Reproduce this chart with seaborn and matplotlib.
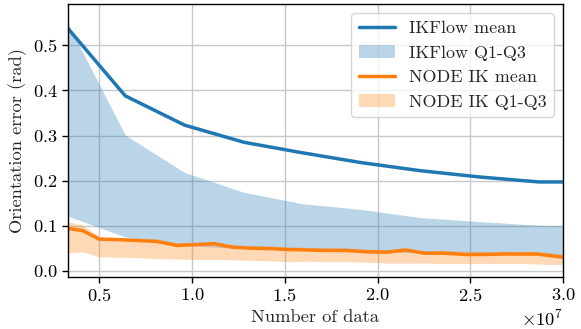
import numpy as np
import pandas as pd
import seaborn as sns
import matplotlib.pyplot as plt

# IKFlow (x in units of 1e7 samples)
ikflow_x = [0.33, 0.64, 0.96, 1.28, 1.59, 1.91, 2.23, 2.55, 2.87, 3.0]
ikflow_mean = [0.538, 0.388, 0.323, 0.285, 0.262, 0.240, 0.222, 0.208, 0.197, 0.197]
ikflow_q1 = [0.121, 0.075, 0.056, 0.049, 0.045, 0.042, 0.040, 0.038, 0.036, 0.034]
ikflow_q3 = [0.549, 0.301, 0.218, 0.174, 0.149, 0.136, 0.118, 0.109, 0.101, 0.100]

# NODE IK
node_x = [0.33, 0.41, 0.50, 0.60, 0.70, 0.81, 0.92, 1.02, 1.12, 1.22, 1.32, 1.42,
          1.52, 1.62, 1.72, 1.83, 1.94, 2.05, 2.15, 2.25, 2.35, 2.48, 2.58, 2.68,
          2.77, 2.86, 3.0]
node_mean = [0.094, 0.089, 0.070, 0.069, 0.067, 0.065, 0.056, 0.058, 0.060, 0.052,
             0.050, 0.049, 0.047, 0.046, 0.045, 0.045, 0.042, 0.041, 0.046, 0.039,
             0.039, 0.036, 0.036, 0.037, 0.037, 0.037, 0.030]
node_q1 = [0.040, 0.042, 0.031, 0.030, 0.029, 0.027, 0.026, 0.025, 0.025, 0.024,
           0.023, 0.022, 0.020, 0.021, 0.020, 0.020, 0.019, 0.017, 0.017, 0.017,
           0.016, 0.016, 0.016, 0.016, 0.016, 0.015, 0.013]
node_q3 = [0.109, 0.101, 0.076, 0.073, 0.072, 0.070, 0.062, 0.063, 0.064, 0.058,
           0.056, 0.055, 0.053, 0.052, 0.051, 0.050, 0.048, 0.047, 0.050, 0.045,
           0.045, 0.043, 0.043, 0.043, 0.043, 0.043, 0.037]

BLUE = "#1f77b4"
ORANGE = "#ff7f0e"
FONTSIZE = 13.3
LEGEND_FONTSIZE = 13

sns.set_style("ticks")
plt.rcParams["font.family"] = "serif"
plt.rcParams["font.serif"] = ["cmr10", "DejaVu Serif"]
plt.rcParams["mathtext.fontset"] = "cm"
plt.rcParams["axes.formatter.use_mathtext"] = True
plt.rcParams["axes.unicode_minus"] = False

ikflow_df = pd.DataFrame({
    "x": np.array(ikflow_x) * 1e7,
    "mean": ikflow_mean,
    "q1": ikflow_q1,
    "q3": ikflow_q3,
})
node_df = pd.DataFrame({
    "x": np.array(node_x) * 1e7,
    "mean": node_mean,
    "q1": node_q1,
    "q3": node_q3,
})

fig, ax = plt.subplots(figsize=(5.81, 3.29), dpi=100)
fig.subplots_adjust(left=0.117, right=0.969, top=0.988, bottom=0.158)

h1 = ax.fill_between(ikflow_df["x"], ikflow_df["q1"], ikflow_df["q3"],
                     color=BLUE, alpha=0.3, linewidth=0, label="IKFlow Q1-Q3")
sns.lineplot(data=ikflow_df, x="x", y="mean", ax=ax, color=BLUE,
             linewidth=2.5, label="IKFlow mean")
h3 = ax.fill_between(node_df["x"], node_df["q1"], node_df["q3"],
                     color=ORANGE, alpha=0.3, linewidth=0, label="NODE IK Q1-Q3")
sns.lineplot(data=node_df, x="x", y="mean", ax=ax, color=ORANGE,
             linewidth=2.5, label="NODE IK mean")

ax.set_xlim(0.331e7, 3.0e7)
ax.set_ylim(-0.014, 0.592)
ax.set_xticks([0.5e7, 1.0e7, 1.5e7, 2.0e7, 2.5e7, 3.0e7])
ax.set_yticks([0.0, 0.1, 0.2, 0.3, 0.4, 0.5])
ax.grid(True, color="#c8c8c8", linewidth=1.0)
ax.set_axisbelow(True)
for s in ax.spines.values():
    s.set_color("black")
    s.set_linewidth(1.0)
ax.tick_params(labelsize=FONTSIZE, direction="out", length=4, width=1, colors="black")
ax.xaxis.get_offset_text().set_fontsize(FONTSIZE)

ax.set_xlabel("Number of data", fontsize=FONTSIZE)
ax.set_ylabel("Orientation error (rad)", fontsize=FONTSIZE)

lines = ax.get_lines()
handles = [lines[0], h1, lines[1], h3]
labels = ["IKFlow mean", "IKFlow Q1-Q3", "NODE IK mean", "NODE IK Q1-Q3"]
ax.legend(handles=handles, labels=labels, loc="upper right", fontsize=LEGEND_FONTSIZE,
          frameon=True, fancybox=True, framealpha=0.8, edgecolor="#cccccc")

plt.savefig("out.png", dpi=100)
